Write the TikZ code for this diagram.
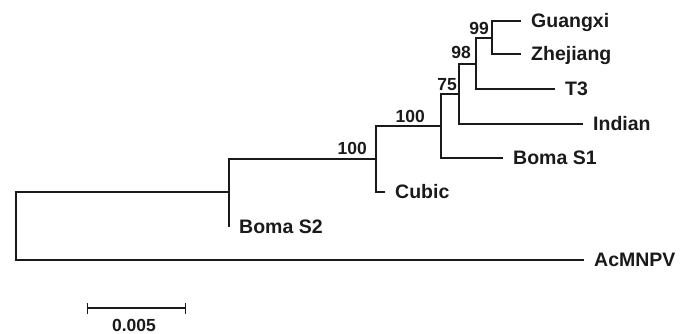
\documentclass[tikz,border=0pt]{standalone}
\usepackage{fontspec}
\setmainfont{Liberation Sans}
\usepackage{xcolor}
\usepackage{tikz}
\usetikzlibrary{arrows.meta,positioning}
\definecolor{ink}{HTML}{1A1A1A}
\tikzset{
  branch/.style={draw=ink,line width=1.4pt},
  leaf/.style={anchor=west,inner xsep=10pt,inner ysep=0pt,text height=13.6pt,text depth=0pt,font=\fontsize{19.5}{21}\selectfont\bfseries,text=ink},
  boot/.style={anchor=base east,inner sep=0pt,font=\fontsize{17.5}{19}\selectfont\bfseries,text=ink},
  scalebar/.style={branch,{Bar[width=11pt]}-{Bar[width=11pt]}},
}

\begin{document}
\begin{tikzpicture}[x=1pt,y=-1pt]
    \useasboundingbox (0,0) rectangle (688,334);
    % internal nodes
    \coordinate (root) at (16,226);
    \coordinate (nA) at (229,192);
    \coordinate (nB) at (376,159);
    \coordinate (nC) at (441,126);
    \coordinate (nD) at (459,94);
    \coordinate (nE) at (476,64);
    \coordinate (nF) at (492,38);
    % leaves
    \node[leaf] (guangxi) at (521,21) {Guangxi};
    \node[leaf] (zhejiang) at (521,54) {Zhejiang};
    \node[leaf] (t3) at (555,89) {T3};
    \node[leaf] (indian) at (583,124) {Indian};
    \node[leaf] (bomas1) at (503,158) {Boma S1};
    \node[leaf] (cubic) at (385,192) {Cubic};
    \node[leaf] (bomas2) at (229,227) {Boma S2};
    \node[leaf] (acmnpv) at (584,260) {AcMNPV};
    % branches
    \draw[branch] (nA) -| (root) |- (acmnpv.west);
    \draw[branch] (nB) -| (nA) |- (bomas2.west);
    \draw[branch] (nC) -| (nB) |- (cubic.west);
    \draw[branch] (nD) -| (nC) |- (bomas1.west);
    \draw[branch] (nE) -| (nD) |- (indian.west);
    \draw[branch] (nF) -| (nE) |- (t3.west);
    \draw[branch] (guangxi.west) -| (nF) |- (zhejiang.west);
    % bootstrap values
    \node[boot] (bB) at (367,155) {100};
    \node[boot] (bC) at (425,123) {100};
    \node[boot] (bD) at (457,91) {75};
    \node[boot] (bE) at (471,59) {98};
    \node[boot] (bF) at (489,35) {99};
    % scale
    \coordinate (sL) at (87,308);
    \coordinate (sR) at (186,308);
    \draw[scalebar] (sL) -- (sR);
    \node[boot,anchor=base] (sc) at (134,331) {0.005};
  \end{tikzpicture}
\end{document}
